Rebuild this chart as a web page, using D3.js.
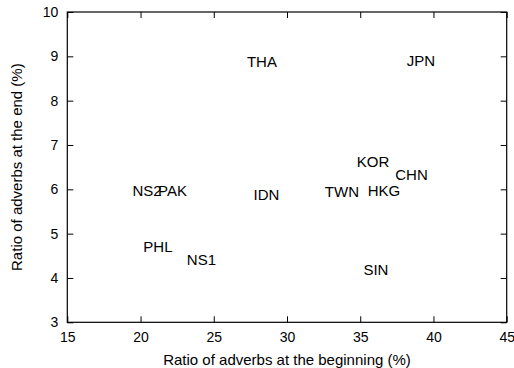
<!DOCTYPE html>
<html><head><meta charset="utf-8">
<script src="https://cdn.jsdelivr.net/npm/d3@7"></script>
<style>body{margin:0;background:#fff}svg{display:block}text{font-family:"Liberation Sans",Arial,sans-serif;fill:#000}</style>
</head><body>
<script>
const labels = ["NS2","PAK","PHL","NS1","THA","JPN","IDN","TWN","HKG","CHN","KOR","SIN"];
const xValues = [20.44,22.18,21.19,24.16,28.29,39.14,28.6,33.75,36.62,38.5,35.87,36.07];
const yValues = [5.96,5.96,4.70,4.41,8.87,8.91,5.88,5.95,5.96,6.33,6.62,4.20];
const xTicks = [15,20,25,30,35,40,45];
const yTicks = [3,4,5,6,7,8,9,10];
const xTitle = "Ratio of adverbs at the beginning (%)";
const yTitle = "Ratio of adverbs at the end (%)";

const W=514,H=368, m={l:67.3,t:12,r:7.3,b:45.7};
const svg=d3.select("body").append("svg").attr("width",W).attr("height",H);
const x=d3.scaleLinear().domain([15,45]).range([m.l,W-m.r]);
const y=d3.scaleLinear().domain([3,10]).range([H-m.b,m.t]);
const tl=6;
const g=svg.append("g");
g.append("g").attr("transform",`translate(0,${H-m.b})`)
 .call(d3.axisBottom(x).tickValues(xTicks).tickSize(-tl).tickPadding(10).tickFormat(d3.format("d")))
 .call(a=>{a.select(".domain").remove();a.selectAll("text").attr("font-size",14);});
g.append("g").attr("transform",`translate(0,${m.t})`)
 .call(d3.axisTop(x).tickValues(xTicks).tickSize(-tl).tickFormat(""))
 .call(a=>a.select(".domain").remove());
g.append("g").attr("transform",`translate(${m.l},0)`)
 .call(d3.axisLeft(y).tickValues(yTicks).tickSize(-tl).tickPadding(9).tickFormat(d3.format("d")))
 .call(a=>{a.select(".domain").remove();a.selectAll("text").attr("font-size",14);});
g.append("g").attr("transform",`translate(${W-m.r},0)`)
 .call(d3.axisRight(y).tickValues(yTicks).tickSize(-tl).tickFormat(""))
 .call(a=>a.select(".domain").remove());
g.selectAll(".tick line").attr("stroke","#000");
svg.append("rect").attr("x",m.l).attr("y",m.t).attr("width",W-m.l-m.r).attr("height",H-m.t-m.b)
 .attr("fill","none").attr("stroke","#000").attr("stroke-width",1.2);

svg.selectAll("text.lab").data(labels).join("text").attr("class","lab")
 .attr("x",(d,i)=>x(xValues[i])).attr("y",(d,i)=>y(yValues[i])).attr("dy","0.36em")
 .attr("text-anchor","middle").attr("font-size",15).text(d=>d);

svg.append("text").attr("x",(m.l+W-m.r)/2).attr("y",365).attr("text-anchor","middle").attr("font-size",15).text(xTitle);
svg.append("text").attr("transform",`translate(22,${(m.t+H-m.b)/2}) rotate(-90)`).attr("text-anchor","middle").attr("font-size",15).text(yTitle);
</script>
</body></html>
